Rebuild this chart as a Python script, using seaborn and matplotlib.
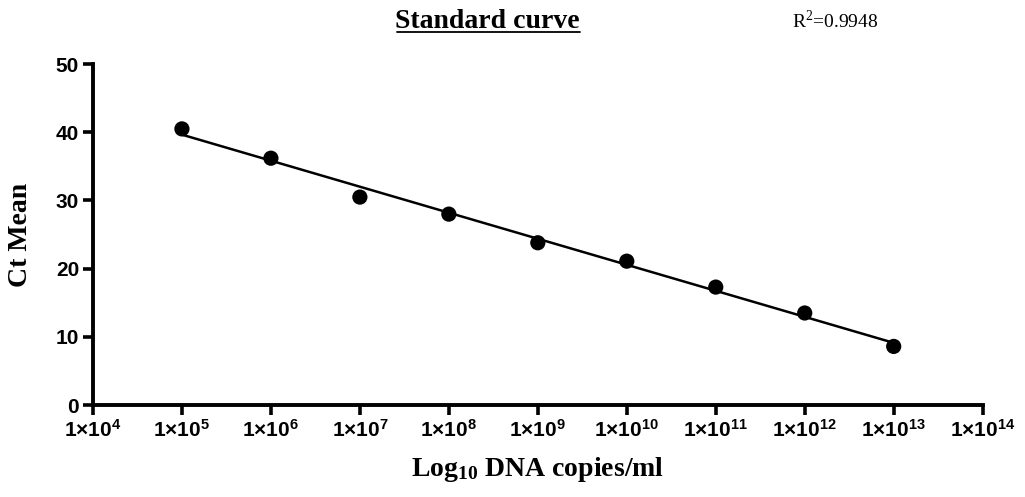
import matplotlib
matplotlib.use("Agg")
import matplotlib.pyplot as plt
import seaborn as sns
import numpy as np
import pandas as pd

# Data
exponents = [5, 6, 7, 8, 9, 10, 11, 12, 13]          # log10 DNA copies/ml
ct_mean = [40.5, 36.2, 30.5, 28.0, 23.8, 21.1, 17.3, 13.5, 8.6]
x_tick_exps = [4, 5, 6, 7, 8, 9, 10, 11, 12, 13, 14]
y_ticks = [0, 10, 20, 30, 40, 50]
r2_text = "0.9948"

sns.set_theme(style="ticks")
plt.rcParams['font.family'] = ['Liberation Sans', 'DejaVu Sans']
plt.rcParams['text.color'] = 'black'
plt.rcParams['axes.labelcolor'] = 'black'
plt.rcParams['mathtext.fontset'] = 'custom'
plt.rcParams['mathtext.rm'] = 'Liberation Serif'
plt.rcParams['mathtext.bf'] = 'Liberation Serif:bold'
plt.rcParams['mathtext.sf'] = 'Liberation Sans:bold'

df = pd.DataFrame({"exp": exponents, "ct": ct_mean})

fig = plt.figure(figsize=(10.25, 4.97), dpi=100)
ax = fig.add_axes([0.0907, 0.185, 0.868, 0.686])

sns.regplot(data=df, x="exp", y="ct", ax=ax, ci=None, color="black",
            scatter_kws=dict(s=120, edgecolor="none", alpha=1, zorder=3),
            line_kws=dict(lw=1.8))

ax.set_xlim(4, 14)
ax.set_ylim(0, 50)
ax.set_xticks(x_tick_exps)
ax.set_xticklabels([r"$\mathsf{1{\times}10^{%d}}$" % e for e in x_tick_exps])
ax.set_yticks(y_ticks)
ax.set_yticklabels([str(v) for v in y_ticks], fontweight="bold")
ax.tick_params(axis="both", direction="out", length=7, width=2.6,
               labelsize=15, color="black", labelcolor="black", pad=3)
for s in ["left", "bottom"]:
    ax.spines[s].set_linewidth(2.8)
    ax.spines[s].set_color("black")
sns.despine(ax=ax)

ax.set_xlabel(r"$\mathbf{Log_{10}}$ DNA copies/ml", family="Liberation Serif",
              fontweight="bold", fontsize=20, labelpad=10)
ax.set_ylabel("Ct Mean", family="Liberation Serif", fontweight="bold",
              fontsize=20, labelpad=16)

fig.text(0.475, 0.944, "Standard curve", family="Liberation Serif",
         fontweight="bold", fontsize=20, ha="center", va="baseline")
fig.add_artist(plt.Line2D([0.387, 0.566], [0.936, 0.936], color="black", lw=1.3))
fig.text(0.815, 0.944, r"R$^2$=" + r2_text, family="Liberation Serif",
         fontsize=14, ha="center", va="baseline")

fig.savefig("out.png", dpi=100)
